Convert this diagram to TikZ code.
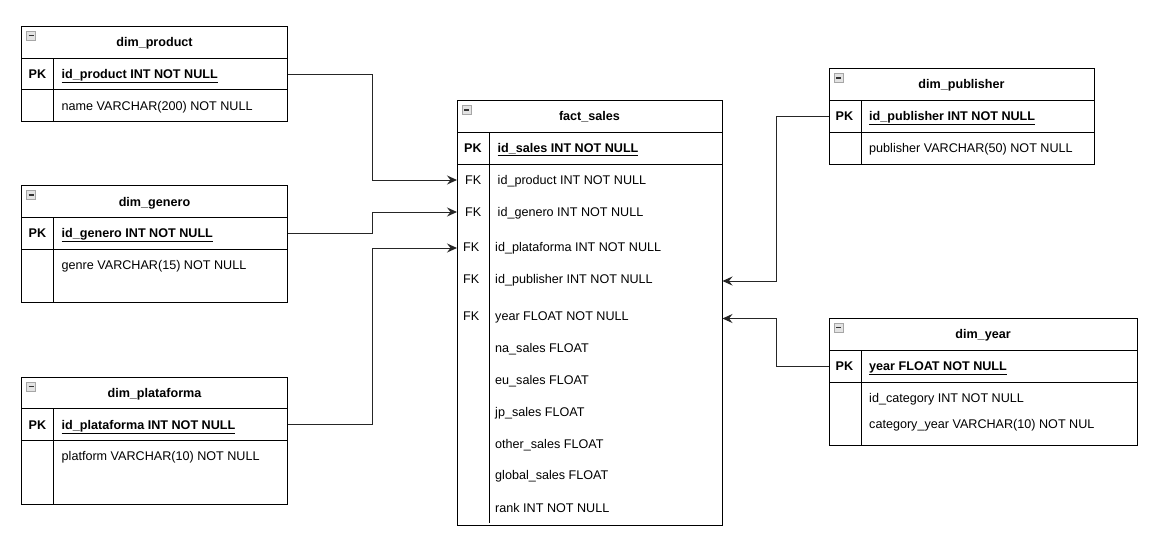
\documentclass[tikz,border=0pt]{standalone}
\usepackage{fontspec}
\setmainfont{Liberation Sans}
\usetikzlibrary{arrows.meta}
\newcommand\ericon[2]{%
  \draw[draw=gray!70, fill=gray!22, line width=0.8pt] (#1+5,#2+5) rectangle +(9,9);
  \draw[draw=gray!40!black, line width=1.8pt] (#1+7,#2+9.5) -- (#1+12,#2+9.5);}
\begin{document}
\begin{tikzpicture}[x=1pt,y=-1pt,
  box/.style={draw=black, line width=1pt},
  sep/.style={draw=black, line width=1pt},
  hdr/.style={font=\fontsize{12.6}{15}\selectfont\bfseries, anchor=base, inner sep=0pt},
  keyt/.style={font=\fontsize{12.6}{15}\selectfont, anchor=base west, inner sep=0pt},
  pkt/.style={font=\fontsize{12.6}{15}\selectfont\bfseries, anchor=base west, inner sep=0pt},
  fld/.style={font=\fontsize{12.6}{15}\selectfont, anchor=base west, inner sep=0pt},
  pkf/.style={font=\fontsize{12.6}{15}\selectfont\bfseries, anchor=base west, inner sep=0pt},
  conn/.style={draw=black!85, line width=1pt, -{Stealth[length=10pt,width=9pt,inset=3.5pt]}},
  link/.style={draw=black!85, line width=1pt}]
\useasboundingbox (0,0) rectangle (1157,552);
\fill[white] (0,0) rectangle (1157,552);

% ---------- dim_product ----------
\draw[box] (21.5,26) rectangle (287.5,121.5);
\draw[sep] (21.5,58) -- (287.5,58);
\draw[sep] (21.5,89.5) -- (287.5,89.5);
\draw[sep] (53.5,58) -- (53.5,121.5);
\ericon{21.5}{26}
\node[hdr] (prodH) at (154.5,46.5) {dim\_product};
\node[pkt] (prodPK) at (28.5,78.5) {PK};
\node[pkf] (prodF1) at (61.5,78.5) {\underline{id\_product INT NOT NULL}};
\node[fld] (prodF2) at (61.5,110.5) {name VARCHAR(200) NOT NULL};

% ---------- dim_genero ----------
\draw[box] (21.5,185.5) rectangle (287.5,302);
\draw[sep] (21.5,217.5) -- (287.5,217.5);
\draw[sep] (21.5,249.5) -- (287.5,249.5);
\draw[sep] (53.5,217.5) -- (53.5,302);
\ericon{21.5}{185.5}
\node[hdr] (genH) at (154.5,206) {dim\_genero};
\node[pkt] (genPK) at (28.5,237.5) {PK};
\node[pkf] (genF1) at (61.5,237.5) {\underline{id\_genero INT NOT NULL}};
\node[fld] (genF2) at (61.5,269.5) {genre VARCHAR(15) NOT NULL};

% ---------- dim_plataforma ----------
\draw[box] (21.5,377) rectangle (287.5,504);
\draw[sep] (21.5,408.5) -- (287.5,408.5);
\draw[sep] (21.5,440.5) -- (287.5,440.5);
\draw[sep] (53.5,408.5) -- (53.5,504);
\ericon{21.5}{377}
\node[hdr] (plaH) at (154.5,397) {dim\_plataforma};
\node[pkt] (plaPK) at (28.5,429) {PK};
\node[pkf] (plaF1) at (61.5,429) {\underline{id\_plataforma INT NOT NULL}};
\node[fld] (plaF2) at (61.5,460.5) {platform VARCHAR(10) NOT NULL};

% ---------- fact_sales ----------
\draw[box] (457,100.5) rectangle (722.5,525);
\draw[sep] (457,132.5) -- (722.5,132.5);
\draw[sep] (457,164) -- (722.5,164);
\draw[sep] (489,132.5) -- (489,523);
\ericon{457}{100.5}
\node[hdr] (factH) at (589.5,120.5) {fact\_sales};
\node[pkt] (factPK) at (464,152.5) {PK};
\node[pkf] (factF0) at (497.5,152.5) {\underline{id\_sales INT NOT NULL}};
\node[keyt] (factK1) at (465,184.5) {FK};
\node[fld]  (factF1) at (497.5,184.5) {id\_product INT NOT NULL};
\node[keyt] (factK2) at (465,216.5) {FK};
\node[fld]  (factF2) at (497.5,216.5) {id\_genero INT NOT NULL};
\node[keyt] (factK3) at (463,251.5) {FK};
\node[fld]  (factF3) at (495,251.5) {id\_plataforma INT NOT NULL};
\node[keyt] (factK4) at (463,283.5) {FK};
\node[fld]  (factF4) at (495,283.5) {id\_publisher INT NOT NULL};
\node[keyt] (factK5) at (463,320.5) {FK};
\node[fld]  (factF5) at (495,320.5) {year FLOAT NOT NULL};
\node[fld]  (factF6) at (495,352.5) {na\_sales FLOAT};
\node[fld]  (factF7) at (495,384.5) {eu\_sales FLOAT};
\node[fld]  (factF8) at (495,416.5) {jp\_sales FLOAT};
\node[fld]  (factF9) at (495,448.5) {other\_sales FLOAT};
\node[fld]  (factF10) at (495,479.5) {global\_sales FLOAT};
\node[fld]  (factF11) at (495,512.5) {rank INT NOT NULL};

% ---------- dim_publisher ----------
\draw[box] (829,68.5) rectangle (1094.5,164);
\draw[sep] (829,100.5) -- (1094.5,100.5);
\draw[sep] (829,132) -- (1094.5,132);
\draw[sep] (861,100.5) -- (861,164);
\ericon{829}{68.5}
\node[hdr] (pubH) at (961.5,88.5) {dim\_publisher};
\node[pkt] (pubPK) at (835.5,120.5) {PK};
\node[pkf] (pubF1) at (869,120.5) {\underline{id\_publisher INT NOT NULL}};
\node[fld] (pubF2) at (869,152.5) {publisher VARCHAR(50) NOT NULL};

% ---------- dim_year ----------
\draw[box] (829,318) rectangle (1137.5,445.5);
\draw[sep] (829,350) -- (1137.5,350);
\draw[sep] (829,382) -- (1137.5,382);
\draw[sep] (861,350) -- (861,445.5);
\ericon{829}{318}
\node[hdr] (yearH) at (983,338.5) {dim\_year};
\node[pkt] (yearPK) at (835.5,370.5) {PK};
\node[pkf] (yearF1) at (869,370.5) {\underline{year FLOAT NOT NULL}};
\node[fld] (yearF2) at (869,402.5) {id\_category INT NOT NULL};
\node[fld] (yearF3) at (869,428.5) {category\_year VARCHAR(10) NOT NUL};

% ---------- connectors ----------
\coordinate (prodOut) at (287.5,74);
\coordinate (genOut) at (287.5,233);
\coordinate (plaOut) at (287.5,424.5);
\coordinate (pubOut) at (829,116.5);
\coordinate (yearOut) at (829,366);
\coordinate (inProd) at (457,180);
\coordinate (inGen) at (457,212);
\coordinate (inPla) at (457,248);
\coordinate (inPub) at (722.5,281);
\coordinate (inYear) at (722.5,318.5);

\draw[conn] (prodOut) -| (372.5,180) -- (inProd);
\draw[conn] (genOut) -| (372.5,212) -- (inGen);
\draw[conn] (plaOut) -| (372.5,248) -- (inPla);
\draw[conn] (pubOut) -| (776,281) -- (inPub);
\draw[conn] (yearOut) -| (776,318.5) -- (inYear);
\end{tikzpicture}
\end{document}
